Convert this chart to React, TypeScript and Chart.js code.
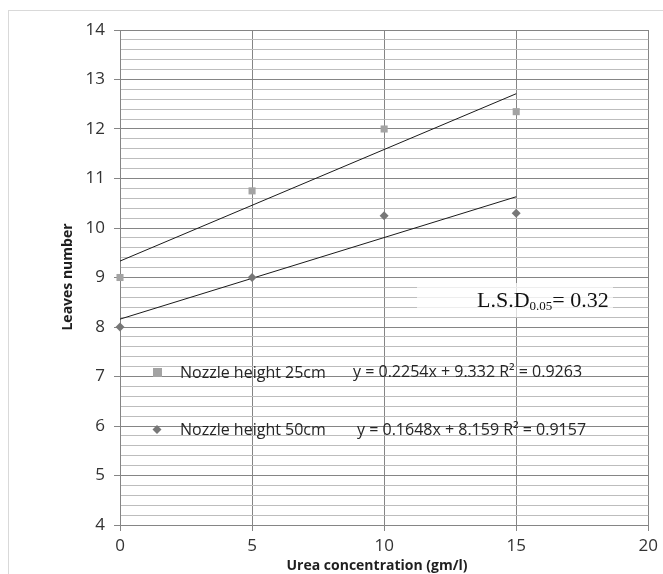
import React, { useEffect, useRef } from "react";
import { Chart, registerables } from "chart.js";
Chart.register(...registerables);

const concentrations = [0, 5, 10, 15];
const leaves25 = [9.0, 10.75, 12.0, 12.35];
const leaves50 = [8.0, 9.0, 10.25, 10.3];
const trendX = [0, 15];
const trend25 = [9.332, 12.713];
const trend50 = [8.159, 10.631];
const seriesLabels = ["Nozzle height 25cm", "Nozzle height 50cm"];
const equations = ["y = 0.2254x + 9.332 R² = 0.9263", "y = 0.1648x + 8.159 R² = 0.9157"];
const xTitle = "Urea concentration (gm/l)";
const yTitle = "Leaves number";
const lsdParts = ["L.S.D", "0.05", "= 0.32"];
const yMin = 4, yMax = 14, yMinorStep = 0.2;
const xMin = 0, xMax = 20, xStep = 5;

const C25 = "#a3a3a3";
const C50 = "#777777";
const SANS = "'Open Sans', 'Liberation Sans', sans-serif";

const isMajor = (v: number) => Math.abs(v - Math.round(v)) < 1e-6;

const overlay = {
  id: "overlay",
  beforeDatasetsDraw(chart: any) {
    const ctx = chart.ctx;
    ctx.save();
    ctx.fillStyle = "rgba(255,255,255,0.72)";
    ctx.fillRect(409, 275, 196, 34);
    ctx.restore();
  },
  afterDraw(chart: any) {
    const ctx = chart.ctx;
    ctx.save();
    // axis titles
    ctx.fillStyle = "#1f1f1f";
    ctx.font = `bold 14px ${SANS}`;
    ctx.textAlign = "center";
    ctx.textBaseline = "middle";
    ctx.fillText(xTitle, 369, 558);
    ctx.save();
    ctx.translate(60, 269);
    ctx.rotate(-Math.PI / 2);
    ctx.fillText(yTitle, 0, 0);
    ctx.restore();

    // legend
    ctx.fillStyle = C25;
    ctx.fillRect(145, 360, 9, 9);
    ctx.fillStyle = C50;
    ctx.beginPath();
    ctx.moveTo(149, 417);
    ctx.lineTo(153.5, 421.5);
    ctx.lineTo(149, 426);
    ctx.lineTo(144.5, 421.5);
    ctx.closePath();
    ctx.fill();
    ctx.fillStyle = "#262626";
    ctx.textAlign = "left";
    ctx.textBaseline = "alphabetic";
    ctx.font = `16px ${SANS}`;
    ctx.fillText(seriesLabels[0], 172, 370);
    ctx.fillText(seriesLabels[1], 172, 427);
    ctx.fillText(equations[0], 345, 369);
    ctx.fillText(equations[1], 349, 427);

    // LSD
    ctx.fillStyle = "#111";
    ctx.font = `22px 'Liberation Serif', serif`;
    ctx.fillText(lsdParts[0], 469, 299);
    const w0 = ctx.measureText(lsdParts[0]).width;
    ctx.font = `13px 'Liberation Serif', serif`;
    ctx.fillText(lsdParts[1], 469 + w0, 302);
    const w1 = ctx.measureText(lsdParts[1]).width;
    ctx.font = `22px 'Liberation Serif', serif`;
    ctx.fillText(lsdParts[2], 469 + w0 + w1, 299);
    ctx.restore();
  },
};

export default function App() {
  const ref = useRef<HTMLCanvasElement>(null);
  useEffect(() => {
    const prevOverflow = document.body.style.overflow;
    const prevMargin = document.body.style.margin;
    document.body.style.overflow = "hidden";
    document.body.style.margin = "0";
    const chart = new Chart(ref.current!, {
      type: "scatter",
      data: {
        datasets: [
          {
            label: seriesLabels[0],
            data: concentrations.map((x, i) => ({ x, y: leaves25[i] })),
            pointStyle: "rect",
            pointRadius: 5,
            backgroundColor: C25,
            borderColor: C25,
            borderWidth: 0,
            clip: false,
          } as any,
          {
            label: seriesLabels[1],
            data: concentrations.map((x, i) => ({ x, y: leaves50[i] })),
            pointStyle: "rectRot",
            pointRadius: 4.5,
            backgroundColor: C50,
            borderColor: C50,
            borderWidth: 0,
            clip: false,
          } as any,
          {
            type: "line",
            label: "trend25",
            data: trendX.map((x, i) => ({ x, y: trend25[i] })),
            borderColor: "#1a1a1a",
            borderWidth: 1,
            pointRadius: 0,
            showLine: true,
            fill: false,
          } as any,
          {
            type: "line",
            label: "trend50",
            data: trendX.map((x, i) => ({ x, y: trend50[i] })),
            borderColor: "#1a1a1a",
            borderWidth: 1,
            pointRadius: 0,
            showLine: true,
            fill: false,
          } as any,
        ],
      },
      options: {
        responsive: false,
        animation: false,
        devicePixelRatio: 1,
        layout: { padding: { top: 22, right: 13, left: 0, bottom: 0 } },
        plugins: { legend: { display: false }, tooltip: { enabled: false } },
        scales: {
          x: {
            type: "linear",
            min: xMin,
            max: xMax,
            ticks: {
              stepSize: xStep,
              color: "#333333",
              font: { family: SANS, size: 17 },
              padding: 5,
            },
            grid: { color: "#858585", lineWidth: 1, tickLength: 6, tickColor: "#858585" },
            border: { color: "#858585" },
            afterFit: (s: any) => { s.height = 49; },
          },
          y: {
            type: "linear",
            min: yMin,
            max: yMax,
            ticks: {
              stepSize: yMinorStep,
              autoSkip: false,
              maxTicksLimit: 1000,
              color: "#333333",
              font: { family: SANS, size: 17 },
              padding: 9,
              callback: (v: any) => (isMajor(v) ? String(Math.round(v)) : ""),
            },
            grid: {
              color: (c: any) => (isMajor(c.tick.value) ? "#858585" : "#bdbdbd"),
              tickColor: (c: any) => (isMajor(c.tick.value) ? "#858585" : "rgba(0,0,0,0)"),
              lineWidth: 1,
              tickLength: 6,
            },
            border: { color: "#858585" },
            afterFit: (s: any) => { s.width = 112; },
          },
        },
      } as any,
      plugins: [overlay],
    });
    return () => {
      chart.destroy();
      document.body.style.overflow = prevOverflow;
      document.body.style.margin = prevMargin;
    };
  }, []);
  return (
    <div style={{ position: "relative", width: 663, height: 574, overflow: "hidden", background: "#fff" }}>
      <div
        style={{
          position: "absolute",
          left: 8,
          top: 10,
          width: 655,
          height: 564,
          borderTop: "1px solid #d9d9d9",
          borderLeft: "1px solid #d9d9d9",
          boxSizing: "border-box",
        }}
      />
      <canvas ref={ref} width={655} height={566} style={{ position: "absolute", left: 8, top: 8, width: 655, height: 566 }} />
    </div>
  );
}
